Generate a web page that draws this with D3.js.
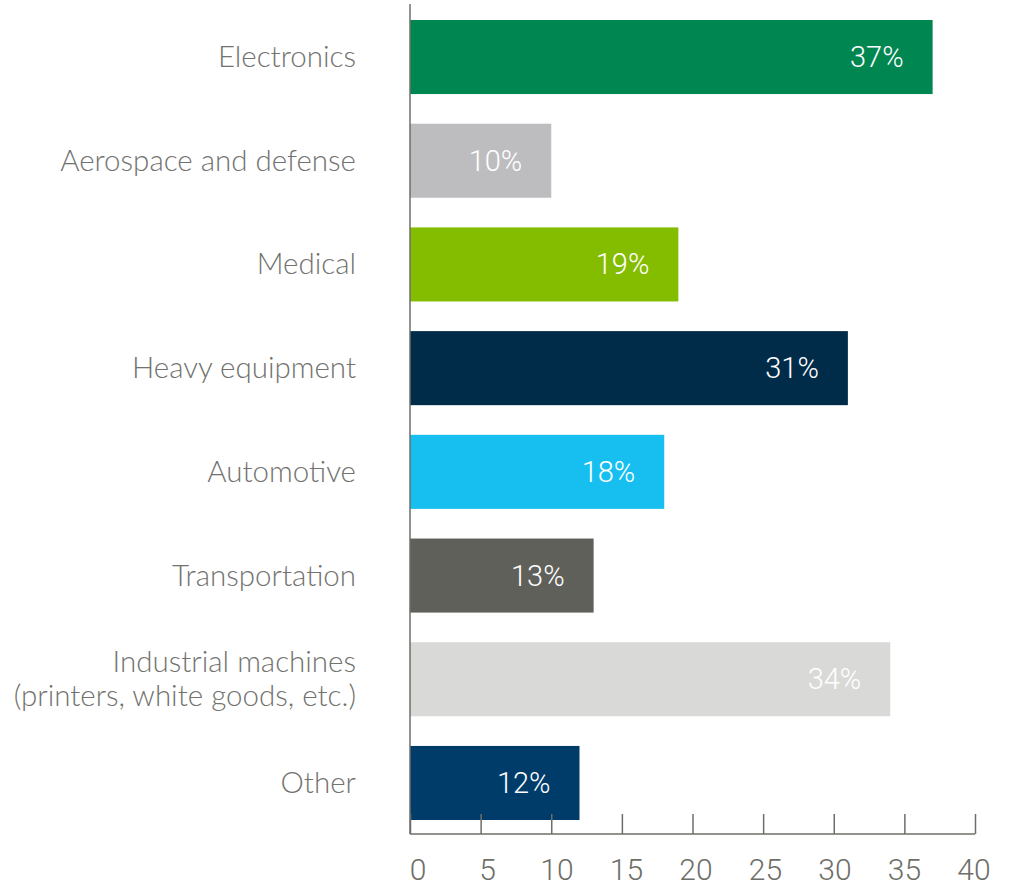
<!DOCTYPE html>
<html>
<head>
<meta charset="utf-8">
<script src="https://cdn.jsdelivr.net/npm/d3@7"></script>
<style>
  html, body { margin: 0; padding: 0; background: #fff; }
  svg { display: block; }
</style>
</head>
<body>
<svg id="chart" width="1015" height="890"></svg>
<script>
// Share of respondents by industry sector
const categories = [
  ["Electronics"],
  ["Aerospace and defense"],
  ["Medical"],
  ["Heavy equipment"],
  ["Automotive"],
  ["Transportation"],
  ["Industrial machines", "(printers, white goods, etc.)"],
  ["Other"]
];
const values = [37, 10, 19, 31, 18, 13, 34, 12];
const barColors = ["#008751", "#bdbdbf", "#84bd00", "#002b49", "#16bfef", "#5f605a", "#d9d9d7", "#003c6a"];
const tickValues = [0, 5, 10, 15, 20, 25, 30, 35, 40];

const svg = d3.select("#chart");
const plotLeft = 410, plotRight = 975, plotTop = 20, plotBottom = 820, axisY = 834;

const x = d3.scaleLinear().domain([0, 40]).range([plotLeft, plotRight]);
// tick labels sit on a slightly tighter spread than the tick marks
const xLabel = d3.scaleLinear().domain([0, 40]).range([418, 974]);
const y = d3.scaleBand()
  .domain(d3.range(categories.length))
  .range([plotTop, plotBottom])
  .paddingInner(0.286)
  .paddingOuter(0);

// bars
svg.append("g").selectAll("rect")
  .data(values)
  .join("rect")
  .attr("x", x(0))
  .attr("y", (d, i) => y(i))
  .attr("width", d => x(d) - x(0))
  .attr("height", y.bandwidth())
  .attr("fill", (d, i) => barColors[i]);

// value labels inside bars
svg.append("g").selectAll("text")
  .data(values)
  .join("text")
  .attr("x", d => x(d) - 29)
  .attr("y", (d, i) => y(i) + y.bandwidth() / 2 + 10)
  .attr("text-anchor", "end")
  .attr("fill", "#ffffff")
  .style("font-family", "Roboto")
  .style("font-weight", 300)
  .style("font-size", "29px")
  .text(d => d + "%");

// category labels
const labels = svg.append("g").selectAll("text")
  .data(categories)
  .join("text")
  .attr("text-anchor", "end")
  .attr("fill", "#72726e")
  .style("font-family", "Lato")
  .style("font-weight", 300)
  .style("font-size", "29.5px")
  .attr("transform", (d, i) => `translate(356, ${y(i) + y.bandwidth() / 2 + 10})`);
labels.each(function(lines) {
  const t = d3.select(this);
  const lh = 34;
  const off = -(lines.length - 1) * lh / 2;
  lines.forEach((s, k) => {
    t.append("tspan").attr("x", 0).attr("y", off + k * lh).text(s);
  });
});

// x axis with upward ticks
const axis = d3.axisTop(x).tickValues(tickValues).tickSize(20).tickFormat("");
const gx = svg.append("g").attr("transform", `translate(0, ${axisY})`).call(axis);
gx.select(".domain").remove();
gx.selectAll(".tick line").attr("stroke", "#6e6e68").attr("stroke-width", 1.5);
gx.append("line").attr("x1", x(0)).attr("x2", x(40)).attr("y1", 0).attr("y2", 0)
  .attr("stroke", "#6e6e68").attr("stroke-width", 1.5);

// tick labels
svg.append("g").selectAll("text")
  .data(tickValues)
  .join("text")
  .attr("x", d => xLabel(d))
  .attr("y", 880)
  .attr("text-anchor", "middle")
  .attr("fill", "#6e6e68")
  .style("font-family", "Roboto")
  .style("font-weight", 300)
  .style("font-size", "30px")
  .text(d => d);

// vertical axis line
svg.append("line")
  .attr("x1", x(0)).attr("x2", x(0))
  .attr("y1", 4).attr("y2", axisY)
  .attr("stroke", "#6e6e68").attr("stroke-width", 1.5);
</script>
</body>
</html>
